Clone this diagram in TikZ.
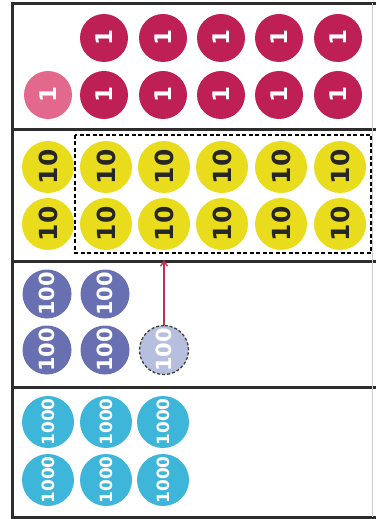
\documentclass[tikz,border=0pt]{standalone}
\usepackage{fontspec}
\setmainfont{DejaVu Sans}
\usetikzlibrary{arrows.meta}
\definecolor{onec}{RGB}{190,32,86}
\definecolor{onelight}{RGB}{226,104,140}
\definecolor{tenc}{RGB}{232,220,28}
\definecolor{hundc}{RGB}{104,112,178}
\definecolor{hundlight}{RGB}{182,192,222}
\definecolor{thouc}{RGB}{62,182,218}
\definecolor{framec}{RGB}{45,45,45}
\definecolor{arrowc}{RGB}{196,48,78}
\tikzset{
  disc/.style={circle,inner sep=0pt,draw=none,rotate=90,font=\bfseries},
  onedisc/.style={disc,fill=onec,text=white,minimum size=48bp,font=\bfseries\fontsize{23}{23}\selectfont},
  onelightdisc/.style={onedisc,fill=onelight},
  tendisc/.style={disc,fill=tenc,text=black!85,minimum size=52bp,font=\bfseries\fontsize{25}{25}\selectfont},
  hunddisc/.style={disc,fill=hundc,text=white,minimum size=49bp,font=\bfseries\fontsize{21}{21}\selectfont},
  hundghost/.style={hunddisc,fill=hundlight,draw=black!75,dash pattern=on 3bp off 2bp,line width=1.3bp},
  thoudisc/.style={disc,fill=thouc,text=white,minimum size=52bp,font=\bfseries\fontsize{17}{17}\selectfont},
  frameline/.style={draw=framec,line width=3bp},
  groupbox/.style={draw=black,dash pattern=on 4bp off 2.5bp,line width=1.4bp},
  exchange/.style={draw=arrowc,line width=1.4bp,-{Straight Barb[length=5bp,width=7bp]}}
}
\begin{document}
\begin{tikzpicture}[x=1bp,y=-1bp]
\useasboundingbox (0,0) rectangle (376,519);
% frame
\draw[frameline] (376,3.5) -- (12.5,3.5) -- (12.5,517) -- (376,517);
\draw[frameline] (12.5,130) -- (376,130);
\draw[frameline] (12.5,261) -- (376,261);
\draw[frameline] (12.5,387) -- (376,387);
\draw[draw=black!20,line width=1bp] (372,3.5) -- (372,517);
% ones
\foreach \x [count=\i] in {104,163,221,279,338}{
  \node[onedisc] (oa\i) at (\x,38) {1};
  \node[onedisc] (ob\i) at (\x,95) {1};
}
\node[onelightdisc] (o0) at (48,95) {1};
% tens
\node[tendisc] (t0a) at (48,167) {10};
\node[tendisc] (t0b) at (48,224) {10};
\foreach \x [count=\i] in {106,164,222,281,340}{
  \node[tendisc] (ta\i) at (\x,167) {10};
  \node[tendisc] (tb\i) at (\x,224) {10};
}
\draw[groupbox] (75,135) rectangle (371,253);
% hundreds
\node[hunddisc] (ha1) at (47,294) {100};
\node[hunddisc] (ha2) at (105,294) {100};
\node[hunddisc] (hb1) at (47,350) {100};
\node[hunddisc] (hb2) at (105,350) {100};
\node[hundghost] (hg) at (164,350) {100};
\coordinate (tgt) at (164,260);
\draw[exchange] (hg.east) -- (tgt);
% thousands
\foreach \x [count=\i] in {48,106,163}{
  \node[thoudisc] (ka\i) at (\x,422) {1000};
  \node[thoudisc] (kb\i) at (\x,480) {1000};
}
\end{tikzpicture}
\end{document}
